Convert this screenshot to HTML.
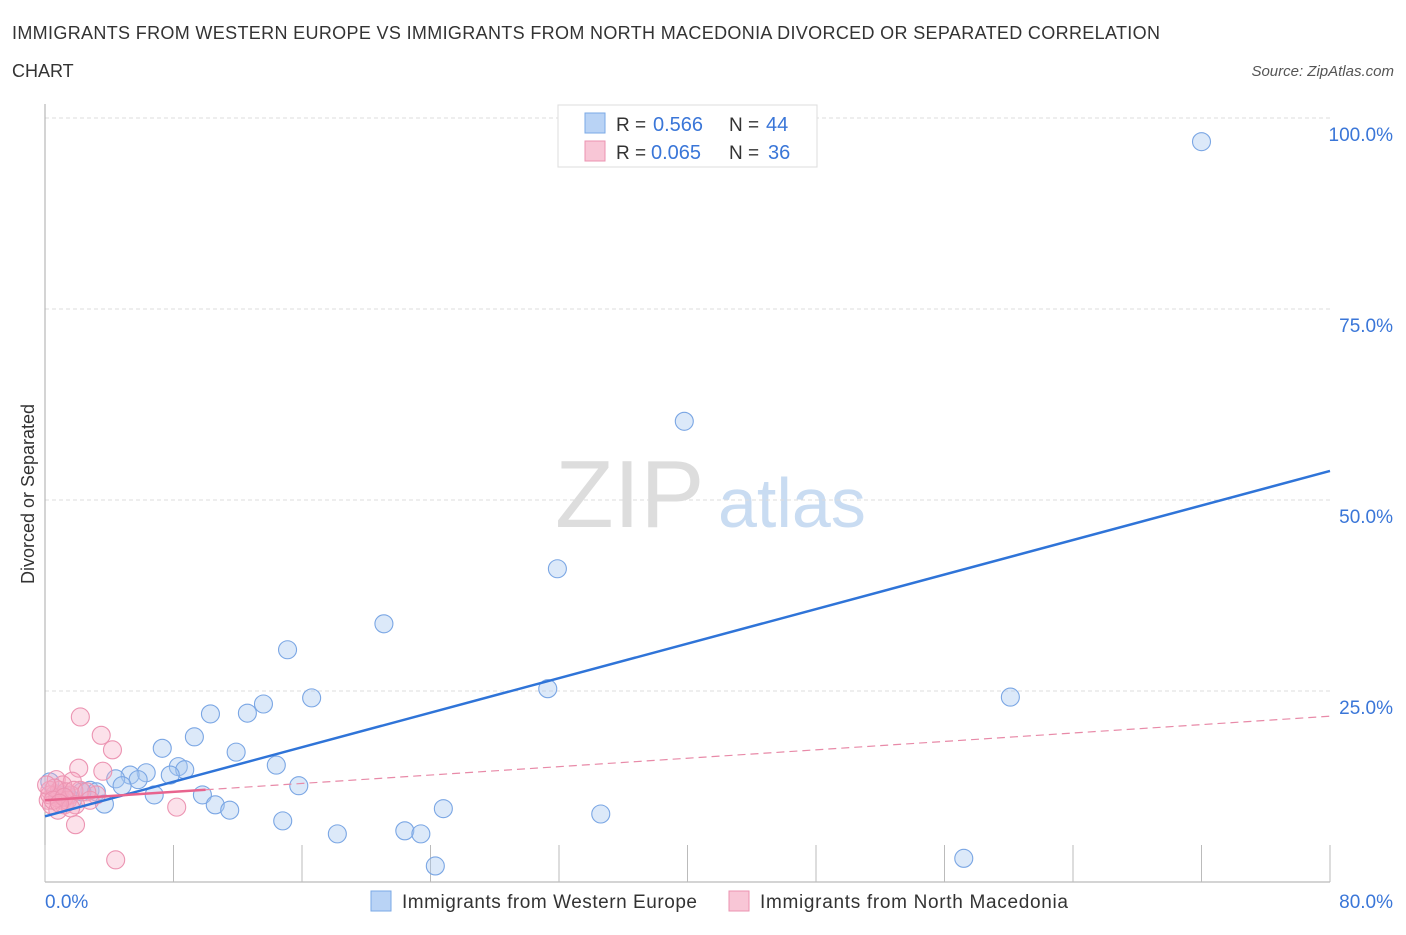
<!DOCTYPE html>
<html><head><meta charset="utf-8"><style>
body{margin:0;background:#fff;font-family:"Liberation Sans",sans-serif;}
svg text{font-family:"Liberation Sans",sans-serif;}
</style></head><body>
<svg id="c" width="1406" height="930">
<text x="12" y="39" font-size="18" fill="#333" textLength="1148" lengthAdjust="spacing">IMMIGRANTS FROM WESTERN EUROPE VS IMMIGRANTS FROM NORTH MACEDONIA DIVORCED OR SEPARATED CORRELATION</text>
<text x="12" y="77" font-size="18" fill="#333">CHART</text>
<text x="1394" y="76" font-size="15" fill="#555" font-style="italic" text-anchor="end">Source: ZipAtlas.com</text>
<text x="34" y="494" font-size="18" fill="#333" text-anchor="middle" transform="rotate(-90 34 494)">Divorced or Separated</text>
<text x="555" y="527" font-size="96" fill="#ddd" font-family="Liberation Serif">ZIP</text>
<text x="718" y="527" font-size="70" fill="#c9dcf2">atlas</text>
<g id="grid"></g><g id="axes"></g><g id="pts"></g><g id="trend"></g>
<g>
<rect x="558" y="105" width="259" height="62" fill="#fff" stroke="#ddd"/>
<rect x="585" y="113" width="20" height="20" fill="#b9d3f5" stroke="#7aa8e6"/>
<text x="616" y="131" font-size="19" fill="#333">R =</text><text x="653" y="131" font-size="20" fill="#3a76d8">0.566</text>
<text x="729" y="131" font-size="19" fill="#333">N =</text><text x="766" y="131" font-size="20" fill="#3a76d8">44</text>
<rect x="585" y="141" width="20" height="20" fill="#f8c6d6" stroke="#eb93b0"/>
<text x="616" y="159" font-size="19" fill="#333">R =</text><text x="651" y="159" font-size="20" fill="#3a76d8">0.065</text>
<text x="729" y="159" font-size="19" fill="#333">N =</text><text x="768" y="159" font-size="20" fill="#3a76d8">36</text>
</g>
<g>
<rect x="371" y="891" width="20" height="20" fill="#b9d3f5" stroke="#7aa8e6"/>
<text x="402" y="908" font-size="19" fill="#333" textLength="295" lengthAdjust="spacing">Immigrants from Western Europe</text>
<rect x="729" y="891" width="20" height="20" fill="#f8c6d6" stroke="#eb93b0"/>
<text x="760" y="908" font-size="19" fill="#333" textLength="308" lengthAdjust="spacing">Immigrants from North Macedonia</text>
</g>
</svg>
<script>
const yTicks=[25,50,75,100];
const yTickLabels=["25.0%","50.0%","75.0%","100.0%"];
const xTickVals=[0,8,16,24,32,40,48,56,64,72,80];
const blueX=[72.0,39.8,31.9,21.1,15.1,16.6,13.6,12.6,10.3,31.3,60.1,9.3,11.9,7.3,14.4,8.3,8.7,6.3,7.8,5.3,4.4,5.8,4.8,15.8,9.8,6.8,2.8,3.2,3.7,10.6,11.5,24.8,34.6,14.8,18.2,22.4,23.4,24.3,57.2,1.7,0.9,0.3,2.3,1.4];
const blueY=[96.9,60.3,41.0,33.8,30.4,24.1,23.3,22.1,22.0,25.3,24.2,19.0,17.0,17.5,15.3,15.1,14.7,14.3,14.0,14.0,13.5,13.4,12.6,12.6,11.4,11.4,12.0,11.8,10.2,10.1,9.4,9.6,8.9,8.0,6.3,6.7,6.3,2.1,3.1,10.7,11.4,13.1,11.8,11.3];
const pinkX=[2.2,3.5,4.2,2.1,3.6,0.7,1.7,1.1,3.2,2.2,8.2,1.9,4.4,0.3,0.6,0.9,1.2,1.6,0.2,0.4,0.8,1.1,1.3,0.3,0.6,0.8,1.4,1.8,2.6,2.8,0.1,0.5,1.2,1.9,1.6,0.9];
const pinkY=[21.6,19.2,17.3,14.9,14.5,13.4,13.2,10.7,11.4,12.0,9.8,7.5,2.9,12.0,11.4,12.0,10.1,11.4,10.7,10.1,11.0,12.7,11.8,11.4,12.3,9.4,10.7,12.0,11.8,10.7,12.7,10.7,11.1,10.1,9.7,10.3];
const blueTrend=[8.6,53.8];
const pinkTrend=[10.7,21.7];
const pinkSolidEnd=10;
const X=v=>45+v*(1285/80), Y=v=>882-v*(764/100);
const NS="http://www.w3.org/2000/svg";
function mk(t,a,p){const e=document.createElementNS(NS,t);for(const k in a)e.setAttribute(k,a[k]);p.appendChild(e);return e;}
const grid=document.getElementById('grid'),axes=document.getElementById('axes'),pts=document.getElementById('pts'),tr=document.getElementById('trend');
yTicks.forEach((v,i)=>{
 const l=mk('line',{x1:45,x2:1330,y1:Y(v),y2:Y(v),stroke:'#ddd','stroke-dasharray':'4,3'},grid);
 
 
 const t=mk('text',{x:1393,y:Y(v)+23,'font-size':19,fill:'#3a76d8','text-anchor':'end'},grid);t.textContent=yTickLabels[i];
 
 
});
const ya=mk('line',{x1:45,x2:45,y1:104,y2:882,stroke:'#aaa'},axes);


const xa=mk('line',{x1:45,x2:1330,y1:882,y2:882,stroke:'#aaa'},axes);


xTickVals.forEach(v=>{const l=mk('line',{x1:X(v),x2:X(v),y1:845,y2:882,stroke:'#bbb'},axes);
 
 });
[[0,"0.0%",45,'start'],[80,"80.0%",1393,'end']].forEach(d=>{const t=mk('text',{x:d[2],y:908,'font-size':19,fill:'#3a76d8','text-anchor':d[3]},axes);t.textContent=d[1];
 
 });
blueX.forEach((x,i)=>{const c=mk('circle',{cx:X(x),cy:Y(blueY[i]),r:9,fill:'rgba(168,200,240,0.4)',stroke:'#7aa6e4','stroke-width':1.1},pts);
 
 });
pinkX.forEach((x,i)=>{const c=mk('circle',{cx:X(x),cy:Y(pinkY[i]),r:9,fill:'rgba(245,170,195,0.35)',stroke:'#ec94b2','stroke-width':1.1},pts);
 
 });
const pv=x=>pinkTrend[0]+(pinkTrend[1]-pinkTrend[0])*x/80;
const bl=mk('line',{x1:X(0),y1:Y(blueTrend[0]),x2:X(80),y2:Y(blueTrend[1]),stroke:'#2f74d8','stroke-width':2.5},tr);


const pd=mk('line',{x1:X(pinkSolidEnd),y1:Y(pv(pinkSolidEnd)),x2:X(80),y2:Y(pinkTrend[1]),stroke:'#e88aa8','stroke-width':1.2,'stroke-dasharray':'8,5'},tr);


const ps=mk('line',{x1:X(0),y1:Y(pinkTrend[0]),x2:X(pinkSolidEnd),y2:Y(pv(pinkSolidEnd)),stroke:'#e8648e','stroke-width':2.5},tr);


</script>
</body></html>
